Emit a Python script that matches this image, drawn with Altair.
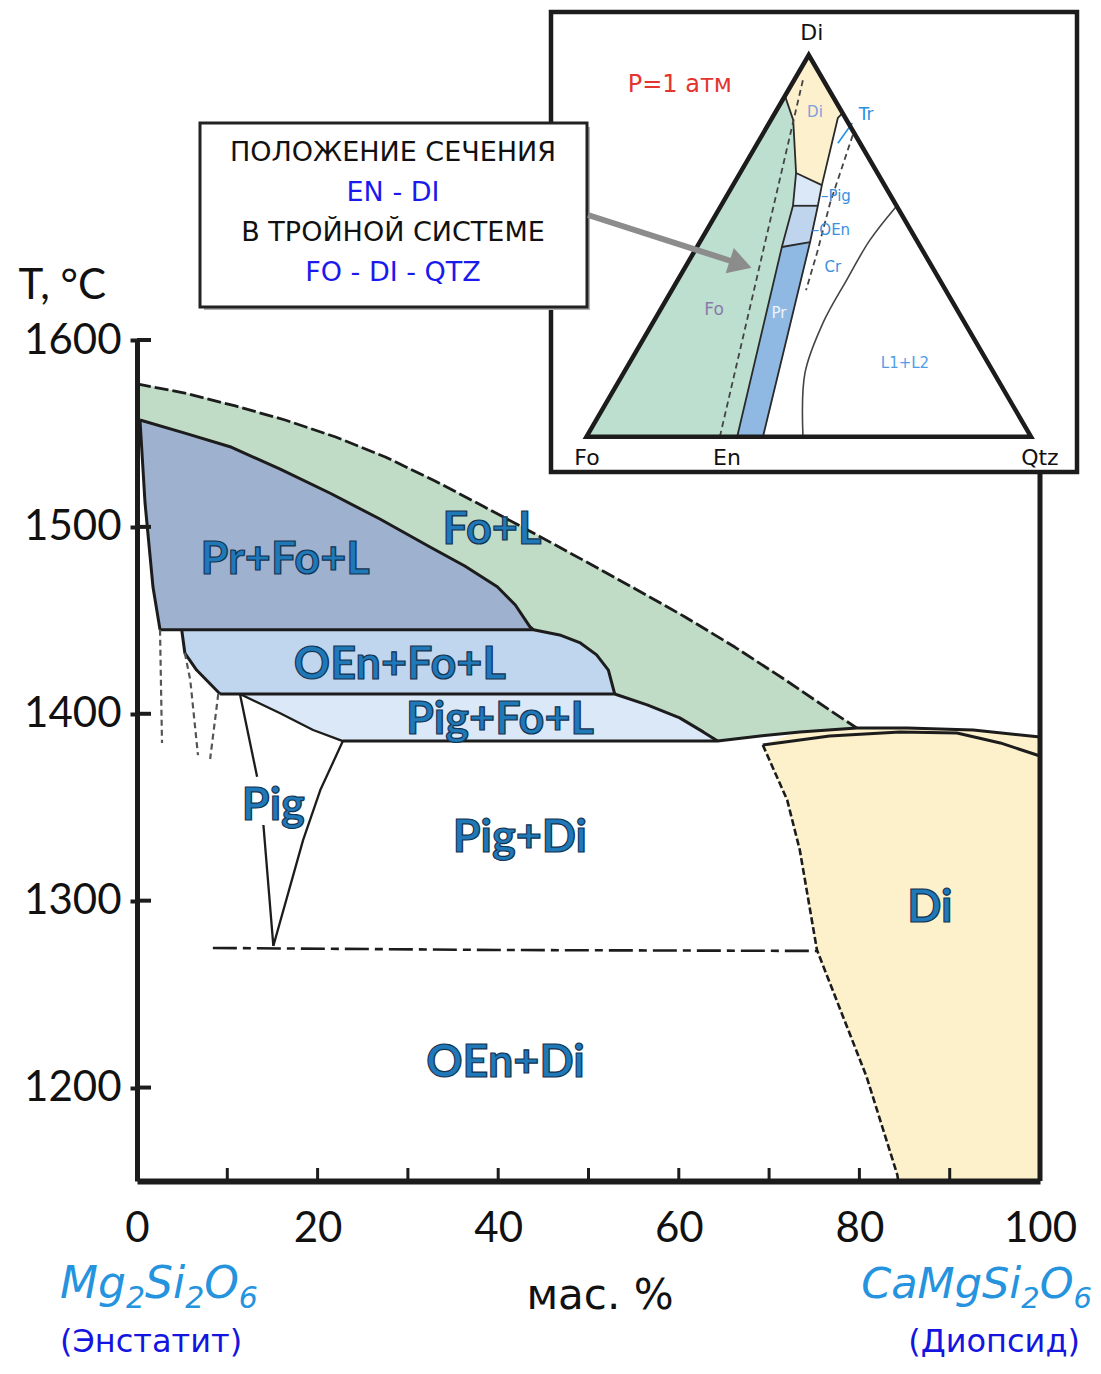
import altair as alt
import pandas as pd

# ------------------------------------------------------------------
# Main section En-Di  (x: wt.% CaMgSi2O6, T: deg C)
# ------------------------------------------------------------------
liq_x = [0, 5.3, 10.9, 16.4, 22.0, 27.5, 33.0, 38.5, 44.1, 49.6, 55.2, 60.7, 66.2, 71.8, 76.7, 79.7]
liq_T = [1576.5, 1571.6, 1564.7, 1557.2, 1548.1, 1537.4, 1524.6, 1510.6, 1496.2, 1481.7,
         1466.8, 1451.8, 1435.7, 1418.1, 1402.0, 1392.4]
pr_top_x = [0.33, 5.3, 10.3, 15.8, 21.4, 26.9, 32.4, 36.3, 39.9, 41.9, 43.5, 43.9]
pr_top_T = [1557.2, 1550.2, 1542.9, 1531.0, 1518.0, 1504.2, 1489.4, 1479.1, 1468.0, 1458.2,
            1446.6, 1445.0]
pr_left_x = [0.33, 0.89, 1.77, 2.55]
pr_left_T = [1557.2, 1512.8, 1467.8, 1445.0]
oen_curve_x = [43.9, 46.8, 49.1, 50.9, 52.2, 52.7, 52.9]
oen_curve_T = [1445.0, 1442.2, 1437.9, 1431.5, 1423.4, 1414.3, 1410.6]
oen_left_x = [4.95, 5.3, 6.6, 9.2]
oen_left_T = [1445.0, 1432.5, 1423.4, 1410.6]
pig_curve_x = [52.9, 56.5, 60.1, 62.7, 64.3]
pig_curve_T = [1410.6, 1404.8, 1397.8, 1390.3, 1385.4]
pig_left_x = [11.4, 15.8, 19.5, 22.8]
pig_left_T = [1410.6, 1400.4, 1391.3, 1385.4]
di_liq_x = [64.3, 69.0, 73.4, 79.7, 85.3, 92.6, 100]
di_liq_T = [1385.4, 1388.1, 1390.3, 1392.4, 1392.4, 1391.3, 1387.6]
di_sol_x = [69.3, 76.7, 84.5, 90.8, 95.6, 100]
di_sol_T = [1383.3, 1388.1, 1390.3, 1389.7, 1384.4, 1377.4]
solv_x = [69.3, 72.0, 73.4, 75.3, 78.2, 80.8, 84.2, 84.3]
solv_T = [1383.3, 1353.9, 1327.1, 1273.6, 1237.8, 1205.7, 1153.3, 1150]
pigf_left_x = [11.4, 13.3, 14.0, 15.1]
pigf_left_T = [1410.6, 1366.3, 1340.5, 1275.8]
pigf_right_x = [22.8, 20.3, 18.4, 15.5, 15.1]
pigf_right_T = [1385.4, 1359.2, 1332.5, 1282.7, 1275.8]
T_PR, T_OEN, T_PIG = 1445.0, 1410.6, 1385.4
sub_x = [8.4, 40.2, 75.4]
sub_T = [1274.7, 1273.6, 1273.1]
dash_a_x, dash_a_T = [2.55, 2.77], [1445.0, 1384.4]
dash_b_x, dash_b_T = [5.3, 5.9, 6.75], [1432.5, 1418.0, 1377.9]
dash_c_x, dash_c_T = [9.0, 8.1], [1410.6, 1375.8]
x_label_vals = [0, 20, 40, 60, 80, 100]
x_minor = [10, 20, 30, 40, 50, 60, 70, 80, 90]
y_vals = [1200, 1300, 1400, 1500, 1600]
field_names = ["Fo+L", "Pr+Fo+L", "OEn+Fo+L", "Pig+Fo+L", "Pig", "Pig+Di", "Di", "OEn+Di"]
field_x = [39.3, 16.4, 29.1, 40.2, 15.1, 42.4, 87.8, 40.8]
field_T = [1498.4, 1482.4, 1426.2, 1396.8, 1350.8, 1333.7, 1296.3, 1213.4]
# end-member formulas: (text, is_subscript)
formula_left = [("Mg", 0), ("2", 1), ("Si", 0), ("2", 1), ("O", 0), ("6", 1)]
formula_right = [("Ca", 0), ("Mg", 0), ("Si", 0), ("2", 1), ("O", 0), ("6", 1)]

# ------------------------------------------------------------------
# Inset: ternary Fo - Di - Qtz, points as (Di %, Qtz %)
# ------------------------------------------------------------------
ter_green = [(0, 0), (89.3, 0), (83.0, 5.0), (69.1, 12.6), (60.5, 16.2), (49.7, 19.1), (0, 33.9)]
ter_di = [(100, 0), (84.8, 15.2), (83.5, 14.8), (65.9, 20.0), (69.1, 12.6), (83.0, 5.0), (89.3, 0)]
ter_pig = [(69.1, 12.6), (65.9, 20.0), (60.5, 21.8), (60.5, 16.2)]
ter_oen = [(60.5, 16.2), (60.5, 21.8), (51.0, 24.8), (49.7, 19.1)]
ter_pr = [(49.7, 19.1), (51.0, 24.8), (0, 39.7), (0, 33.9)]
ter_line_left = [(89.3, 0), (83.0, 5.0), (69.1, 12.6), (60.5, 16.2), (49.7, 19.1), (0, 33.9)]
ter_line_right = [(84.8, 15.2), (83.5, 14.8), (65.9, 20.0), (60.5, 21.8), (51.0, 24.8), (0, 39.7)]
ter_b1 = [(60.5, 16.2), (60.5, 21.8)]
ter_b2 = [(49.7, 19.1), (51.0, 24.8)]
ter_b3 = [(69.1, 12.6), (65.9, 20.0)]
ter_l1l2 = [(0, 48.7), (16.7, 40.8), (29.8, 38.3), (41.1, 38.0), (51.5, 38.0), (60.2, 39.5)]
ter_dash2 = [(79.0, 20.4), (61.2, 24.2), (48.1, 27.8), (38.4, 30.2)]
ter_en_di = [(0, 30), (94, 1.8)]
ter_tr_tick = [(76.9, 18.1), (82.2, 18.7)]
ter_edges = [(0, 0), (0, 100), (100, 0), (0, 0), (0, 100)]
ins_names = ["Di", "Fo", "En", "Qtz"]
ins_u = [0.507, 0.001, 0.316, 1.020]
ins_v = [1.058, -0.056, -0.056, -0.056]
small_names = ["P=1 атм", "Di", "Tr", "–Pig", "–OEn", "Cr", "Fo", "Pr", "L1+L2"]
small_u = [0.210, 0.514, 0.629, 0.561, 0.550, 0.554, 0.287, 0.433, 0.7165]
small_v = [0.921, 0.850, 0.843, 0.631, 0.541, 0.445, 0.332, 0.324, 0.193]
small_col = ["#e3342f", "#7f9fe0", "#2a90e0", "#3a8fe0", "#3a8fe0", "#3a8fe0", "#8a7aaa", "#eef3fb", "#4d9ee8"]
small_fs = [24, 15, 17, 15, 15, 15, 17, 15, 15]
box_lines = ["ПОЛОЖЕНИЕ СЕЧЕНИЯ", "EN - DI", "В ТРОЙНОЙ СИСТЕМЕ", "FO - DI - QTZ"]
box_cols = ["#111111", "#1a1aee", "#111111", "#1a1aee"]

# ------------------------------------------------------------------
W, H = 903, 841
INK = "#1c1c1c"
ONE = pd.DataFrame({"a": [0]})

xscale = alt.Scale(domain=[0, 100], nice=False, zero=False)
yscale = alt.Scale(domain=[1150, 1600], nice=False, zero=False)
xaxis = alt.Axis(values=x_label_vals, ticks=False, tickSize=0, labelFontSize=42, labelFont="Lato",
                 labelColor="#111", labelPadding=27, labelFlush=False, labelOverlap=False,
                 domainColor=INK, domainWidth=6, grid=False, title=None, zindex=1, format="d")
yaxis = alt.Axis(values=y_vals, tickSize=7, tickWidth=4, tickColor=INK, labelFontSize=42,
                 labelFont="Lato", labelColor="#111", labelPadding=9, labelFlush=False,
                 domainColor=INK, domainWidth=5, grid=False, zindex=1, format="d",
                 title="T, °C", titleAngle=0, titleFont="Lato", titleFontSize=42,
                 titleFontWeight="normal", titleColor="#111", titleAlign="left",
                 titleBaseline="middle", titleX=-119, titleY=-55)
X = alt.X("x:Q", scale=xscale, axis=xaxis)
Y = alt.Y("T:Q", scale=yscale, axis=yaxis)


def df_pts(pts, seg=0):
    return pd.DataFrame({"x": [p[0] for p in pts], "T": [p[1] for p in pts],
                         "i": list(range(len(pts))), "seg": seg})


def fill_poly(pts, color):
    return alt.Chart(df_pts(pts)).mark_line(fill=color, stroke=color, strokeWidth=1).encode(
        x=X, y=Y, order="i:Q")


def draw(dfs, color=INK, width=2.8, dash=None):
    d = pd.concat(dfs, ignore_index=True)
    kw = dict(color=color, strokeWidth=width, strokeJoin="round")
    if dash:
        kw["strokeDash"] = dash
    return alt.Chart(d).mark_line(**kw).encode(x=X, y=Y, order="i:Q", detail="seg:N")


Z = lambda a, b: list(zip(a, b))

green_pts = (Z(liq_x, liq_T) + Z(di_liq_x[:3], di_liq_T[:3])[::-1]
             + Z(pig_curve_x, pig_curve_T)[::-1] + Z(oen_curve_x, oen_curve_T)[::-1]
             + Z(pr_top_x, pr_top_T)[::-1] + [(0, pr_top_T[0])])
pr_pts = Z(pr_top_x, pr_top_T) + [(pr_left_x[-1], T_PR)] + Z(pr_left_x, pr_left_T)[::-1]
oen_pts = ([(oen_left_x[0], T_PR)] + Z(oen_curve_x, oen_curve_T) + [(oen_left_x[-1], T_OEN)]
           + Z(oen_left_x, oen_left_T)[::-1])
pig_pts = ([(pig_left_x[0], T_OEN)] + Z(pig_curve_x, pig_curve_T) + [(pig_left_x[-1], T_PIG)]
           + Z(pig_left_x, pig_left_T)[::-1])
di_pts = ([(solv_x[0], solv_T[0])] + [p for p in Z(di_liq_x, di_liq_T) if p[0] > solv_x[0]]
          + [(100, 1150)] + Z(solv_x, solv_T)[::-1])

main_layers = [
    fill_poly(green_pts, "#c0dcc6"),
    fill_poly(pr_pts, "#9eb1cf"),
    fill_poly(oen_pts, "#c0d6ee"),
    fill_poly(pig_pts, "#dbe8f7"),
    fill_poly(di_pts, "#fdf1cc"),
    draw([df_pts(Z(liq_x, liq_T))], dash=[14, 4]),
    draw([df_pts(Z(pr_top_x, pr_top_T), 0), df_pts(Z(pr_left_x, pr_left_T), 1),
          df_pts([(pr_left_x[-1], T_PR)] + Z(oen_curve_x, oen_curve_T), 2),
          df_pts(Z(oen_left_x, oen_left_T), 3),
          df_pts([(oen_left_x[-1], T_OEN)] + Z(pig_curve_x, pig_curve_T), 4),
          df_pts([(pig_left_x[-1], T_PIG)] + Z(di_liq_x, di_liq_T), 5),
          df_pts(Z(di_sol_x, di_sol_T), 6)], width=3),
    draw([df_pts(Z(pig_left_x, pig_left_T), 0), df_pts(Z(pigf_left_x[:2], pigf_left_T[:2]), 1),
          df_pts(Z(pigf_left_x[2:], pigf_left_T[2:]), 2),
          df_pts(Z(pigf_right_x, pigf_right_T), 3)], width=2.3),
    draw([df_pts(Z(solv_x, solv_T))], dash=[7, 3], width=2.6),
    draw([df_pts(Z(sub_x, sub_T))], dash=[24, 6, 8, 6], width=2.6),
    draw([df_pts(Z(dash_a_x, dash_a_T), 0), df_pts(Z(dash_b_x, dash_b_T), 1),
          df_pts(Z(dash_c_x, dash_c_T), 2)], color="#555555", dash=[6, 4], width=2.2),
    alt.Chart(pd.DataFrame({"x": [100]})).mark_rule(color=INK, strokeWidth=5).encode(
        x=X, y=alt.value(0), y2=alt.value(H)),
    alt.Chart(pd.DataFrame({"x": x_minor})).mark_rule(color=INK, strokeWidth=3).encode(
        x=X, y=alt.value(H), y2=alt.value(H - 13)),
    alt.Chart(pd.DataFrame({"T": y_vals})).mark_rule(color=INK, strokeWidth=4).encode(
        y=Y, x=alt.value(0), x2=alt.value(14)),
    alt.Chart(pd.DataFrame({"x": field_x, "T": field_T, "t": field_names})).mark_text(
        font="Lato", fontWeight="bold", fontSize=45, fill="#1f78b8", stroke="#143350",
        strokeWidth=1.2, align="center", baseline="middle").encode(x=X, y=Y, text="t:N"),
    alt.Chart(ONE).mark_text(text="мас.  %", font="DejaVu Sans", fontSize=42, fill="#111",
                             align="center", baseline="alphabetic").encode(
        x=alt.value(463), y=alt.value(969)),
    alt.Chart(ONE).mark_text(text="(Энстатит)", font="DejaVu Sans", fontSize=32,
                             fill="#1515e0", align="left", baseline="alphabetic").encode(
        x=alt.value(-77), y=alt.value(1012)),
    alt.Chart(ONE).mark_text(text="(Диопсид)", font="DejaVu Sans", fontSize=32,
                             fill="#1515e0", align="right", baseline="alphabetic").encode(
        x=alt.value(943), y=alt.value(1012)),
]

# formula pieces laid out left to right (approx. DejaVu Sans Oblique advances, em)
ADV = {"M": 0.863, "g": 0.635, "S": 0.635, "i": 0.278, "O": 0.787, "C": 0.698, "a": 0.613}


def formula_rows(pieces, x0, base, big, small, right=False):
    rows, x = [], 0.0
    for txt, sub in pieces:
        fs = small if sub else big
        rows.append({"t": txt, "px": x, "py": base + (10 if sub else 0), "fs": fs})
        x += sum(ADV.get(ch, 0.636) for ch in txt) * fs
    shift = x0 - x if right else x0
    for r in rows:
        r["px"] += shift
    return rows


form_df = pd.DataFrame(formula_rows(formula_left, -77, 958, 44, 30)
                       + formula_rows(formula_right, 955, 958, 43, 29, right=True))

# ------------------------------------------------------------------
# inset scales: ternary cartesian (u along Fo->Qtz, v = Di fraction)
FO_RX, QZ_RX, BASE_RY, APEX_RY = 449.5, 894.0, 96.7, -285.0
KU = QZ_RX - FO_RX
KV = BASE_RY - APEX_RY
uscale = alt.Scale(domain=[-FO_RX / KU, (W - FO_RX) / KU], nice=False, zero=False)
vscale = alt.Scale(domain=[(BASE_RY - H) / KV, BASE_RY / KV], nice=False, zero=False)
U = alt.X("u:Q", scale=uscale, axis=None)
V = alt.Y("v:Q", scale=vscale, axis=None)


def tdf(pts, seg=0):
    return pd.DataFrame({"u": [q / 100 + d / 200 for d, q in pts], "v": [d / 100 for d, q in pts],
                         "i": list(range(len(pts))), "seg": seg})


def tfill(pts, color):
    return alt.Chart(tdf(pts)).mark_line(fill=color, stroke=color, strokeWidth=0.8).encode(
        x=U, y=V, order="i:Q")


def tline(dfs, color="#2a2a2a", width=1.8, dash=None, interp="linear"):
    d = pd.concat(dfs, ignore_index=True)
    kw = dict(color=color, strokeWidth=width, strokeJoin="miter", interpolate=interp)
    if dash:
        kw["strokeDash"] = dash
    return alt.Chart(d).mark_line(**kw).encode(x=U, y=V, order="i:Q", detail="seg:N")


inset_layers = [
    alt.Chart(form_df).mark_text(font="DejaVu Sans", fontStyle="italic", fill="#2593dd",
                                 align="left", baseline="alphabetic").encode(
        x=alt.X("px:Q", scale=None, axis=None), y=alt.Y("py:Q", scale=None, axis=None),
        text="t:N", size=alt.Size("fs:Q", scale=None)),
    alt.Chart(ONE).mark_rect(fill="white", stroke=INK, strokeWidth=4.5).encode(
        x=alt.value(414), x2=alt.value(940), y=alt.value(-328), y2=alt.value(132)),
    tfill(ter_green, "#bddfd0"),
    tfill(ter_di, "#fdf0cc"),
    tfill(ter_pig, "#dbe8f7"),
    tfill(ter_oen, "#bfd5ee"),
    tfill(ter_pr, "#8fb9e3"),
    tline([tdf(ter_line_left, 0), tdf(ter_line_right, 1), tdf(ter_b1, 2), tdf(ter_b2, 3),
           tdf(ter_b3, 4)], width=1.8),
    tline([tdf(ter_l1l2)], color="#444444", width=1.6, interp="catmull-rom"),
    tline([tdf(ter_dash2, 0), tdf(ter_en_di, 1)], color="#444444", width=1.8, dash=[6, 4]),
    tline([tdf(ter_tr_tick)], color="#2a90e0", width=1.6),
    tline([tdf(ter_edges)], color=INK, width=4.5),
    alt.Chart(pd.DataFrame({"u": ins_u, "v": ins_v, "t": ins_names})).mark_text(
        font="DejaVu Sans", fontSize=22, fill="#111", align="center", baseline="middle").encode(
        x=U, y=V, text="t:N"),
    alt.Chart(pd.DataFrame({"u": small_u, "v": small_v, "t": small_names, "c": small_col,
                            "s": small_fs})).mark_text(
        font="DejaVu Sans", align="center", baseline="middle").encode(
        x=U, y=V, text="t:N", color=alt.Color("c:N", scale=None), size=alt.Size("s:Q", scale=None)),
    alt.Chart(ONE).mark_rect(fill="#b0b0b0").encode(
        x=alt.value(67), x2=alt.value(453), y=alt.value(-213), y2=alt.value(-30)),
    alt.Chart(ONE).mark_rect(fill="white", stroke="#222222", strokeWidth=3).encode(
        x=alt.value(63), x2=alt.value(450), y=alt.value(-217), y2=alt.value(-33)),
    alt.Chart(pd.DataFrame({"t": box_lines, "c": box_cols, "yy": [-187, -147, -107, -67]})).mark_text(
        font="DejaVu Sans", fontSize=27, align="center", baseline="middle").encode(
        x=alt.value(256), y=alt.Y("yy:Q", scale=None, axis=None), text="t:N",
        color=alt.Color("c:N", scale=None)),
    alt.Chart(ONE).mark_rule(color="#8c8c8c", strokeWidth=6).encode(
        x=alt.value(451), y=alt.value(-125), x2=alt.value(594), y2=alt.value(-79)),
    alt.Chart(ONE).mark_point(shape="triangle", filled=True, fill="#8c8c8c", size=700,
                              angle=108, opacity=1).encode(x=alt.value(600), y=alt.value(-77)),
]

main = alt.layer(*main_layers)
inset = alt.layer(*inset_layers)
chart = alt.layer(main, inset).resolve_scale(x="independent", y="independent").properties(
    width=W, height=H,
    padding={"left": 129, "top": 332, "right": 53, "bottom": 179},
    autosize=alt.AutoSizeParams(type="none"),
    background="white",
).configure_view(stroke=None)

chart.save("out.html", embed_options={"renderer": "svg", "actions": False})
